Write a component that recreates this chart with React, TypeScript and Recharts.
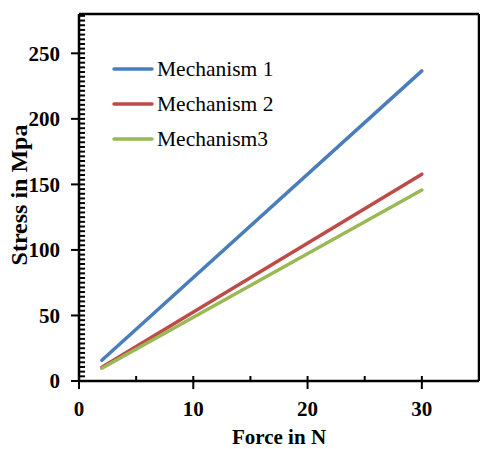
import React from 'react';
import { LineChart, Line, XAxis, YAxis, Legend } from 'recharts';

const forces = [2, 30];
const mechanism1 = [15.8, 236.6];
const mechanism2 = [10.5, 157.8];
const mechanism3 = [9.7, 145.7];

const seriesNames = ['Mechanism 1', 'Mechanism 2', 'Mechanism3'];
const seriesKeys = ['m1', 'm2', 'm3'];
const seriesColors = ['#4A7EBB', '#BE4B48', '#98B954'];

const xMajorTicks = [0, 10, 20, 30];
const xMinorTicks = [0, 5, 10, 15, 20, 25, 30, 35];
const yMajorTicks = [0, 50, 100, 150, 200, 250];
const yMinorTicks = Array.from({ length: 79 }, (_, k) => (k * 50) / 14);

const data = forces.map((f, i) => ({
  force: f,
  m1: mechanism1[i],
  m2: mechanism2[i],
  m3: mechanism3[i],
}));

const FONT = '"Liberation Serif", "Times New Roman", serif';
const AXIS = { stroke: '#000', strokeWidth: 2.5 };
const TICKLINE = { stroke: '#000', strokeWidth: 2 };
const TICKTEXT = { fill: '#000', fontFamily: FONT, fontSize: 21, fontWeight: 'bold' };

const LegendContent = (props: any) => {
  const payload = (props.payload || []).filter((p: any) => p.type !== 'none');
  return (
    <svg width={200} height={110}>
      {payload.map((p: any, i: number) => (
        <g key={i}>
          <line x1={2} x2={40} y1={17 + i * 35} y2={17 + i * 35} stroke={p.color} strokeWidth={3.5} strokeLinecap="round" />
          <text x={45} y={17 + i * 35} dominantBaseline="central" fontFamily={FONT} fontSize={21.5} fill="#000">
            {p.value}
          </text>
        </g>
      ))}
    </svg>
  );
};

export default function App() {
  return (
    <div style={{ position: 'absolute', left: 0, top: 0 }}>
      <LineChart width={480} height={449} data={data} margin={{ top: 14, right: 1, bottom: 0, left: 0 }}>
        <XAxis
          xAxisId="main"
          dataKey="force"
          type="number"
          domain={[0, 35]}
          allowDataOverflow
          ticks={xMajorTicks}
          interval={0}
          height={68}
          axisLine={AXIS}
          tickLine={TICKLINE}
          tickSize={8}
          tickMargin={12}
          tick={TICKTEXT}
          label={{
            content: () => (
              <text x={279} y={444} textAnchor="middle" fontFamily={FONT} fontSize={21} fontWeight="bold" fill="#000">
                Force in N
              </text>
            ),
          }}
        />
        <XAxis
          xAxisId="minorX"
          dataKey="force"
          type="number"
          domain={[0, 35]}
          allowDataOverflow
          ticks={xMinorTicks}
          interval={0}
          mirror
          height={1}
          axisLine={false}
          tickLine={TICKLINE}
          tickSize={5}
          tick={() => null}
        />
        <XAxis
          xAxisId="top"
          dataKey="force"
          orientation="top"
          type="number"
          domain={[0, 35]}
          allowDataOverflow
          mirror
          height={1}
          axisLine={AXIS}
          tickLine={false}
          tick={() => null}
        />
        <YAxis
          yAxisId="main"
          type="number"
          domain={[0, 280]}
          allowDataOverflow
          ticks={yMajorTicks}
          interval={0}
          width={79}
          axisLine={AXIS}
          tickLine={TICKLINE}
          tickSize={8}
          tickMargin={11}
          tick={TICKTEXT}
          label={{
            content: () => (
              <text
                x={19}
                y={195}
                transform="rotate(-90 19 195)"
                textAnchor="middle"
                dominantBaseline="central"
                fontFamily={FONT}
                fontSize={24}
                fontWeight="bold"
                fill="#000"
              >
                Stress in Mpa
              </text>
            ),
          }}
        />
        <YAxis
          yAxisId="minorY"
          type="number"
          domain={[0, 280]}
          allowDataOverflow
          ticks={yMinorTicks}
          interval={0}
          mirror
          width={1}
          axisLine={false}
          tickLine={TICKLINE}
          tickSize={6}
          tick={() => null}
        />
        <YAxis
          yAxisId="right"
          orientation="right"
          type="number"
          domain={[0, 280]}
          allowDataOverflow
          mirror
          width={1}
          axisLine={AXIS}
          tickLine={false}
          tick={() => null}
        />
        <Legend
          layout="vertical"
          align="center"
          verticalAlign="middle"
          wrapperStyle={{ left: 112, top: 52, width: 200, height: 110 }}
          content={LegendContent}
        />
        <Line
          xAxisId="minorX"
          yAxisId="minorY"
          dataKey="m1"
          stroke="none"
          strokeWidth={0}
          dot={false}
          activeDot={false}
          isAnimationActive={false}
          legendType="none"
        />
        <Line
          xAxisId="top"
          yAxisId="right"
          dataKey="m1"
          stroke="none"
          strokeWidth={0}
          dot={false}
          activeDot={false}
          isAnimationActive={false}
          legendType="none"
        />
        {seriesKeys.map((k, i) => (
          <Line
            key={k}
            xAxisId="main"
            yAxisId="main"
            dataKey={k}
            name={seriesNames[i]}
            stroke={seriesColors[i]}
            strokeWidth={3.5}
            strokeLinecap="round"
            dot={false}
            activeDot={false}
            isAnimationActive={false}
            legendType="line"
          />
        ))}
      </LineChart>
    </div>
  );
}
